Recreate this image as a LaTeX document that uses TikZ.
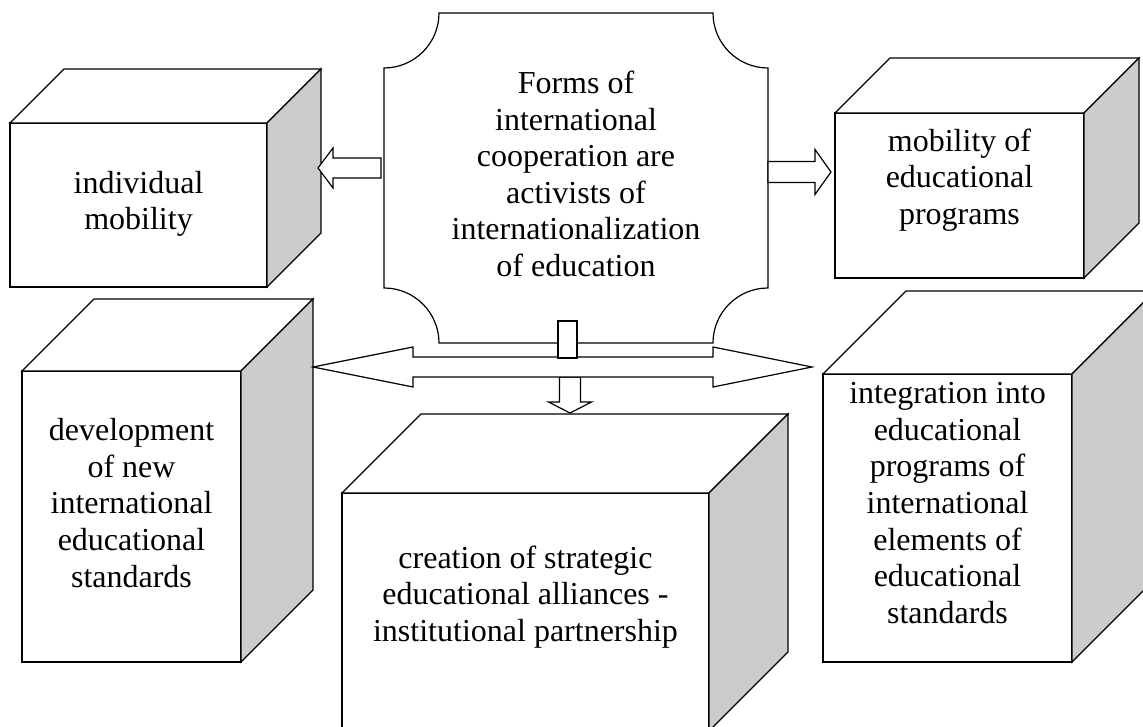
\documentclass[tikz,border=0pt]{standalone}
\usepackage{fontspec}
\setmainfont{Liberation Serif}
\usetikzlibrary{calc}

\definecolor{sidegray}{RGB}{204,204,204}

\newcommand{\cubeback}[2]{%
    \draw[edge, fill=white] (#1.north west) -- ++(#2,#2) -- ($(#1.north east)+(#2,#2)$) -- (#1.north east) -- cycle;
    \draw[edge, fill=sidegray] (#1.north east) -- ++(#2,#2) -- ($(#1.south east)+(#2,#2)$) -- (#1.south east) -- cycle;
}

\begin{document}
\begin{tikzpicture}[x=1pt, y=1pt,
    edge/.style={draw, line width=1.2pt, line join=miter},
    face/.style={edge, fill=white, outer sep=0pt, inner sep=0pt},
    lbl/.style={align=center, inner sep=0pt, font=\fontsize{32}{36.6}\selectfont},
    blk/.style={edge, fill=white}]
    \clip (0,0) rectangle (1143,727);
    \fill[white] (0,0) rectangle (1143,727);

    \node[face, minimum width=257pt, minimum height=164pt] (indiv) at (138.5,522) {};
    \cubeback{indiv}{54}
    \node[lbl] (indivtext) at ([yshift=1pt]indiv.center) {individual\\mobility};

    \node[face, minimum width=249pt, minimum height=165pt] (progs) at (959.5,531.5) {};
    \cubeback{progs}{55}
    \node[lbl] (progstext) at ([yshift=15.5pt]progs.center) {mobility of\\educational\\programs};

    \node[face, minimum width=219pt, minimum height=291pt] (dev) at (131.5,210.5) {};
    \cubeback{dev}{72}
    \node[lbl] (devtext) at ([yshift=13.5pt]dev.center) {development\\of new\\international\\educational\\standards};

    \node[face, minimum width=367pt, minimum height=238pt] (creat) at (525.5,115) {};
    \cubeback{creat}{79}
    \node[lbl] (creattext) at ([yshift=15pt]creat.center) {creation of strategic\\educational alliances -\\institutional partnership};

    \node[face, minimum width=249pt, minimum height=288pt] (integ) at (947.5,209) {};
    \cubeback{integ}{83}
    \node[lbl] (integtext) at ([yshift=15pt]integ.center) {integration into\\educational\\programs of\\international\\elements of\\educational\\standards};

    \node[minimum width=384pt, minimum height=330pt, inner sep=0pt, outer sep=0pt] (forms) at (576,549) {};
    \draw[edge, fill=white] ([xshift=55pt]forms.north west) -- ([xshift=-55pt]forms.north east)
        arc[start angle=180, end angle=270, radius=55pt] -- ([yshift=55pt]forms.south east)
        arc[start angle=90, end angle=180, radius=55pt] -- ([xshift=55pt]forms.south west)
        arc[start angle=0, end angle=90, radius=55pt] -- ([yshift=-55pt]forms.north west)
        arc[start angle=270, end angle=360, radius=55pt] -- cycle;
    \node[lbl] (formstext) at ([yshift=4pt]forms.center) {Forms of\\international\\cooperation are\\activists of\\internationalization\\of education};

    \draw[blk] ([shift={(-3,20)}]forms.west) -- ++(-48,0) -- ++(0,10) -- ++(-15,-20) -- ++(15,-20) -- ++(0,10) -- ++(48,0) -- cycle;
    \draw[blk] ([yshift=16.5pt]forms.east) -- ++(47,0) -- ++(0,12) -- ++(16,-22.5) -- ++(-16,-22.5) -- ++(0,12) -- ++(-47,0) -- cycle;
    \draw[blk] ([shift={(-16.5,-34)}]forms.south) -- ++(0,-25) -- ++(-11,0) -- ++(21.5,-11) -- ++(21.5,11) -- ++(-11,0) -- ++(0,25) -- cycle;
    \draw[blk] ([shift={(72,4)}]dev.north east) -- ++(100,20) -- ++(0,-10) -- ++(300,0) -- ++(0,10) -- ++(99,-20)
        -- ++(-99,-20) -- ++(0,10) -- ++(-300,0) -- ++(0,-10) -- cycle;
    \draw[blk] ([shift={(-18,-15)}]forms.south) rectangle ++(19,37);
\end{tikzpicture}
\end{document}
